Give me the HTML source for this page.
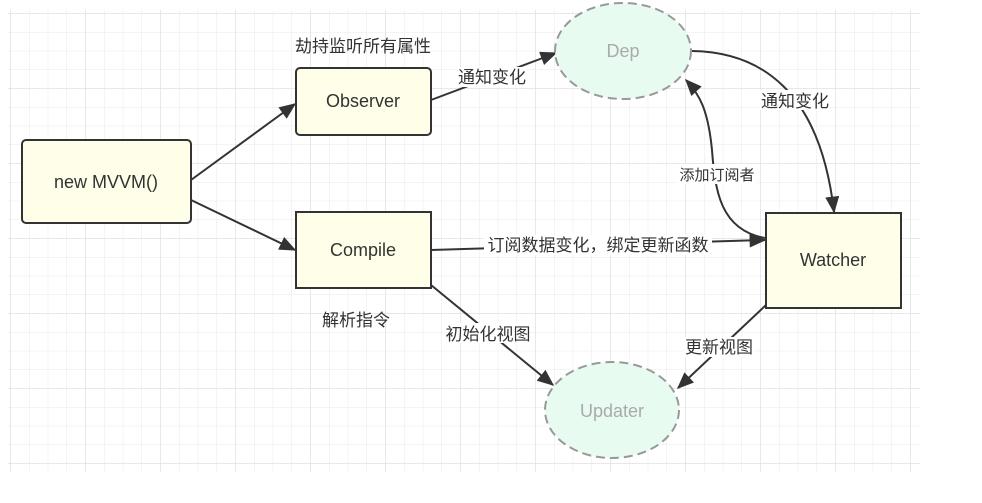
<!DOCTYPE html>
<html><head><meta charset="utf-8"><style>
html,body{margin:0;padding:0;background:#fff;}
svg text{font-family:"Liberation Sans","Noto Sans CJK SC",sans-serif;}
</style></head><body>
<svg width="982" height="498" viewBox="0 0 982 498" xmlns="http://www.w3.org/2000/svg">
<defs>
<pattern id="g" x="10.25" y="13.25" width="18.75" height="18.75" patternUnits="userSpaceOnUse">
<path d="M0 0H18.75M0 0V18.75" stroke="#e8e8e8" stroke-width="1" fill="none"/>
</pattern>
<pattern id="G" x="10.25" y="13.25" width="75" height="75" patternUnits="userSpaceOnUse">
<path d="M0 0H75M0 0V75" stroke="#dcdcdc" stroke-width="1" fill="none"/>
</pattern>
<marker id="ar" viewBox="0 0 12 10" refX="11" refY="5" markerWidth="17" markerHeight="14" orient="auto" markerUnits="userSpaceOnUse">
<path d="M0 0L12 5L0 10Z" fill="#333"/>
</marker>
</defs>
<rect x="8" y="10" width="912" height="462" fill="url(#g)"/>
<rect x="8" y="10" width="912" height="462" fill="url(#G)"/>
<g stroke="#333" stroke-width="2" fill="none" marker-end="url(#ar)">
<path d="M191 180L295 104"/>
<path d="M191 200L295 250"/>
<path d="M431 100L556 53"/>
<path d="M692 51C760 52 820 90 834 212"/>
<path d="M765 238C720 230 715 190 712 150C708 110 700 95 686 80"/>
<path d="M431 250L765 240"/>
<path d="M431 285L553 385"/>
<path d="M766 305L678 388"/>
</g>
<g fill="#fefee9" stroke="#333" stroke-width="2">
<rect x="22" y="140" width="169" height="83" rx="4"/>
<rect x="296" y="68" width="135" height="67" rx="4"/>
<rect x="296" y="212" width="135" height="76"/>
<rect x="766" y="213" width="135" height="95"/>
</g>
<g fill="#e8fbf1" stroke="#999" stroke-width="2" stroke-dasharray="9,5">
<ellipse cx="623" cy="51" rx="68" ry="48"/>
<ellipse cx="612" cy="410" rx="67" ry="48"/>
</g>
<g font-size="18" fill="#333" text-anchor="middle">
<text x="106" y="188">new MVVM()</text>
<text x="363" y="107">Observer</text>
<text x="363" y="256">Compile</text>
<text x="833" y="266">Watcher</text>
<text x="623" y="57" fill="#aaa">Dep</text>
<text x="612" y="417" fill="#aaa">Updater</text>
</g>
<g font-size="17" fill="#333" text-anchor="middle">
<rect x="457" y="67" width="70" height="20" fill="#fff"/>
<text x="492" y="83">通知变化</text>
<rect x="760" y="90" width="70" height="20" fill="#fff"/>
<text x="795" y="107">通知变化</text>
<rect x="677" y="164" width="80" height="20" fill="#fff"/>
<text x="717" y="180" font-size="15">添加订阅者</text>
<rect x="484" y="235" width="228" height="20" fill="#fff"/>
<text x="598" y="251">订阅数据变化，绑定更新函数</text>
<rect x="447" y="323" width="82" height="20" fill="#fff"/>
<text x="488" y="340">初始化视图</text>
<rect x="684" y="337" width="70" height="20" fill="#fff"/>
<text x="719" y="353">更新视图</text>
<text x="363" y="52">劫持监听所有属性</text>
<text x="356" y="326">解析指令</text>
</g>
</svg>
</body></html>
